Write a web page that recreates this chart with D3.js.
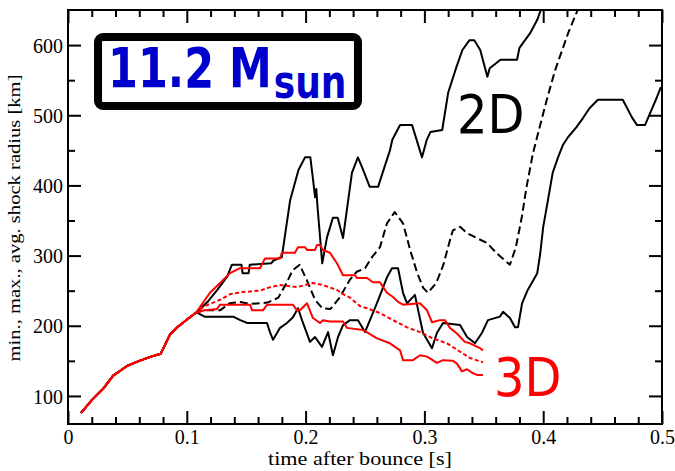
<!doctype html>
<html>
  <head>
    <script src="https://cdnjs.cloudflare.com/ajax/libs/d3/7.8.5/d3.min.js"></script>
    <style>
      body { margin: 0; background: #fff; }
      svg { display: block; }
      .axis path.domain { display: none; }
      .axis line { stroke: #000; stroke-width: 2px; }
      .axis text {
        font-family: "Liberation Serif", "DejaVu Serif", serif;
        font-size: 20px;
        fill: #000;
        transform-box: fill-box;
        transform-origin: center;
        transform: scaleY(1.1);
      }
      .title {
        font-family: "Liberation Serif", serif;
        fill: #000;
      }
      .big { font-family: "DejaVu Sans", sans-serif; }
    </style>
  </head>
  <body>
    <svg width="675" height="471"></svg>
    <script>
      // time after bounce [s], shock radius [km]
      // all six curves lie on top of each other until ~0.11 s
      var collapse = [[0.011,76],[0.020,94],[0.030,111],[0.038,129],[0.050,143],[0.060,150],
        [0.070,156],[0.078,160],[0.086,188],[0.092,198],[0.101,210],[0.108,219]];

      var max2D = [[0.118,235],[0.126,252],[0.134,270],[0.138,287],[0.146,287],[0.147,275],[0.152,275],
        [0.153,287],[0.171,289],[0.173,293],[0.180,298],[0.187,379],[0.194,422],[0.1995,440],[0.204,440],
        [0.206,412],[0.208,383],[0.209,395],[0.210,370],[0.214,289],[0.218,326],[0.223,354],[0.227,354],
        [0.2315,325],[0.239,418],[0.244,440],[0.2475,426],[0.254,398],[0.261,398],[0.265,419],[0.271,450],
        [0.273,465],[0.2795,486],[0.2896,486],[0.298,440],[0.302,465],[0.305,476],[0.315,479],[0.320,532],
        [0.327,569],[0.332,593],[0.338,607],[0.342,607],[0.347,593],[0.353,555],[0.355,567],[0.364,579],
        [0.378,579],[0.380,596],[0.389,617],[0.395,636],[0.398,650],[0.400,660]];

      var avg2D = [[0.115,222],[0.128,222],[0.136,232],[0.145,234],[0.153,231],[0.168,233],[0.177,240],
        [0.184,261],[0.189,279],[0.195,287],[0.201,265],[0.208,237],[0.214,225],[0.221,224],[0.229,241],
        [0.237,265],[0.243,277],[0.250,282],[0.256,298],[0.2626,312],[0.2685,346],[0.275,362],[0.282,346],
        [0.288,308],[0.294,275],[0.299,254],[0.303,247],[0.310,261],[0.316,287],[0.3215,322],[0.324,336],
        [0.330,341],[0.336,332],[0.344,325],[0.3527,318],[0.361,303],[0.372,287],[0.377,312],[0.382,355],
        [0.386,398],[0.3914,446],[0.397,483],[0.403,522],[0.410,564],[0.416,593],[0.421,617],[0.428,646],
        [0.431,660]];

      var min2D = [[0.115,213],[0.139,213],[0.145,208],[0.151,204],[0.1675,204],[0.170,191],[0.1726,180],
        [0.1785,197],[0.1843,204],[0.1894,212],[0.1936,225],[0.1978,204],[0.2037,177],[0.2079,184],
        [0.2138,170],[0.2189,191],[0.223,158],[0.2273,184],[0.2315,201],[0.2374,208],[0.2441,208],
        [0.250,191],[0.260,232],[0.2685,269],[0.2727,282],[0.2778,282],[0.282,247],[0.2854,232],
        [0.292,244],[0.2988,190],[0.3064,168],[0.3106,190],[0.3157,204],[0.330,201],[0.3359,184],
        [0.3426,175],[0.3485,190],[0.3535,208],[0.3636,213],[0.3662,220],[0.372,211],[0.3763,198],
        [0.3788,198],[0.3822,232],[0.387,251],[0.395,275],[0.3975,303],[0.400,341],[0.404,379],
        [0.408,418],[0.4125,440],[0.4167,458],[0.421,469],[0.428,483],[0.4335,496],[0.439,510],
        [0.446,522],[0.467,522],[0.4747,497],[0.479,486],[0.4857,486],[0.490,503],[0.4958,526],[0.499,540]];

      var max3D = [[0.1195,247],[0.128,261],[0.1364,275],[0.1448,282],[0.1616,282],[0.1658,296],
        [0.1785,296],[0.180,304],[0.191,304],[0.1936,312],[0.1995,312],[0.2012,308],[0.2079,308],
        [0.2096,315],[0.2121,315],[0.2146,308],[0.2205,304],[0.2264,289],[0.2315,272],[0.2416,272],
        [0.2433,268],[0.2517,268],[0.2567,262],[0.2626,262],[0.2652,255],[0.2685,247],[0.2736,241],
        [0.2778,234],[0.282,230],[0.2963,232],[0.3022,222],[0.3064,205],[0.3131,208],[0.3173,208],
        [0.3215,197],[0.3274,189],[0.334,177],[0.3384,175],[0.3468,168],[0.3493,165]];

      var avg3D = [[0.115,228],[0.128,237],[0.1364,245],[0.147,248],[0.1616,250],[0.170,255],[0.1785,258],
        [0.1928,255],[0.206,261],[0.2146,258],[0.2264,251],[0.2315,245],[0.2374,240],[0.2458,228],
        [0.2517,225],[0.2626,218],[0.2736,208],[0.285,198],[0.2963,191],[0.3072,182],[0.319,175],
        [0.330,163],[0.3384,154],[0.3493,148]];

      var min3D = [[0.115,222],[0.1254,224],[0.128,230],[0.1532,230],[0.1549,222],[0.1641,222],[0.1675,230],
        [0.1894,230],[0.1928,222],[0.1953,222],[0.2012,232],[0.2062,211],[0.2121,204],[0.2146,208],
        [0.2205,206],[0.2315,206],[0.2348,197],[0.2483,194],[0.2601,182],[0.271,175],[0.2795,165],
        [0.282,151],[0.2904,151],[0.2963,158],[0.3022,156],[0.3106,147],[0.3157,151],[0.3241,150],
        [0.3274,146],[0.3316,135],[0.3359,138],[0.3401,133],[0.3443,130],[0.3493,130]];

      var xTicks = [0, 0.1, 0.2, 0.3, 0.4, 0.5];
      var xTickLabels = ["0", "0.1", "0.2", "0.3", "0.4", "0.5"];
      var yTicks = [100, 200, 300, 400, 500, 600];
      var yTickLabels = ["100", "200", "300", "400", "500", "600"];

      var svg = d3.select("svg");
      var x = d3.scaleLinear().domain([0, 0.5]).range([68, 662]);
      var y = d3.scaleLinear().domain([60, 650]).range([424, 10]);

      var xMinor = x.ticks(25).filter(v => xTicks.indexOf(+v.toFixed(2)) < 0);
      var yMinor = y.ticks(12).filter(v => v % 100 !== 0 && v < 650);

      svg.append("defs").append("clipPath").attr("id", "plot")
        .append("rect").attr("x", 68).attr("y", 10).attr("width", 594).attr("height", 414);

      // curves: black 2D first, red 3D on top
      var series = [
        { data: max2D, color: "#000", dash: null },
        { data: min2D, color: "#000", dash: null },
        { data: avg2D, color: "#000", dash: "8,4" },
        { data: max3D, color: "#f00", dash: null },
        { data: min3D, color: "#f00", dash: null },
        { data: avg3D, color: "#f00", dash: "4,2.5" }
      ];
      var line = d3.line().x(d => x(d[0])).y(d => y(d[1]));

      svg.append("g").attr("clip-path", "url(#plot)")
        .selectAll("path")
        .data(series)
        .enter()
        .append("path")
          .attr("d", d => line(collapse.concat(d.data)))
          .attr("fill", "none")
          .attr("stroke", d => d.color)
          .attr("stroke-width", 2)
          .attr("stroke-linejoin", "round")
          .attr("stroke-dasharray", d => d.dash);

      // axes, ticks pointing inwards on all four sides
      var fmtX = d => xTickLabels[xTicks.indexOf(d)];
      var fmtY = d => yTickLabels[yTicks.indexOf(d)];

      svg.append("g").attr("class", "axis").attr("transform", "translate(0,424)")
        .call(d3.axisBottom(x).tickValues(xTicks).tickFormat(fmtX).tickSizeInner(-13).tickSizeOuter(0).tickPadding(5));
      svg.append("g").attr("class", "axis").attr("transform", "translate(0,424)")
        .call(d3.axisBottom(x).tickValues(xMinor).tickFormat("").tickSizeInner(-7).tickSizeOuter(0));
      svg.append("g").attr("class", "axis").attr("transform", "translate(0,10)")
        .call(d3.axisTop(x).tickValues(xTicks).tickFormat("").tickSizeInner(-13).tickSizeOuter(0));
      svg.append("g").attr("class", "axis").attr("transform", "translate(0,10)")
        .call(d3.axisTop(x).tickValues(xMinor).tickFormat("").tickSizeInner(-7).tickSizeOuter(0));

      svg.append("g").attr("class", "axis").attr("transform", "translate(68,0)")
        .call(d3.axisLeft(y).tickValues(yTicks).tickFormat(fmtY).tickSizeInner(-13).tickSizeOuter(0).tickPadding(5));
      svg.append("g").attr("class", "axis").attr("transform", "translate(68,0)")
        .call(d3.axisLeft(y).tickValues(yMinor).tickFormat("").tickSizeInner(-7).tickSizeOuter(0));
      svg.append("g").attr("class", "axis").attr("transform", "translate(662,0)")
        .call(d3.axisRight(y).tickValues(yTicks).tickFormat("").tickSizeInner(-13).tickSizeOuter(0));
      svg.append("g").attr("class", "axis").attr("transform", "translate(662,0)")
        .call(d3.axisRight(y).tickValues(yMinor).tickFormat("").tickSizeInner(-7).tickSizeOuter(0));

      svg.append("rect")
        .attr("x", 68).attr("y", 10).attr("width", 594).attr("height", 414)
        .attr("fill", "none").attr("stroke", "#000").attr("stroke-width", 2);

      // axis titles
      svg.append("text").attr("class", "title")
        .attr("transform", "translate(360,465)")
        .attr("text-anchor", "middle")
        .attr("textLength", 184)
        .attr("lengthAdjust", "spacingAndGlyphs")
        .style("font-size", "18px")
        .text("time after bounce [s]");
      svg.append("text").attr("class", "title")
        .attr("transform", "translate(20,218) rotate(-90)")
        .attr("text-anchor", "middle")
        .attr("textLength", 287)
        .attr("lengthAdjust", "spacingAndGlyphs")
        .style("font-size", "16px")
        .text("min., max., avg. shock radius [km]");

      // mass label box
      svg.append("rect")
        .attr("x", 98).attr("y", 37).attr("width", 260).attr("height", 69)
        .attr("rx", 5)
        .attr("fill", "#fff").attr("stroke", "#000").attr("stroke-width", 8);
      var mass = svg.append("text").attr("class", "big")
        .attr("transform", "translate(108,87) scale(1,1.28)")
        .attr("fill", "#0000cc")
        .style("font-weight", "bold")
        .style("font-size", "43px");
      mass.append("tspan").text("11.2 M");
      mass.append("tspan").attr("dy", 8.5).attr("dx", 2).style("font-size", "36px").text("sun");

      svg.append("text").attr("class", "big")
        .attr("transform", "translate(457,133) scale(1,1.1)")
        .style("font-size", "48px")
        .attr("fill", "#000")
        .text("2D");
      svg.append("text").attr("class", "big")
        .attr("transform", "translate(494,396) scale(1,1.1)")
        .style("font-size", "48px")
        .attr("fill", "#f00")
        .text("3D");
    </script>
  </body>
</html>
